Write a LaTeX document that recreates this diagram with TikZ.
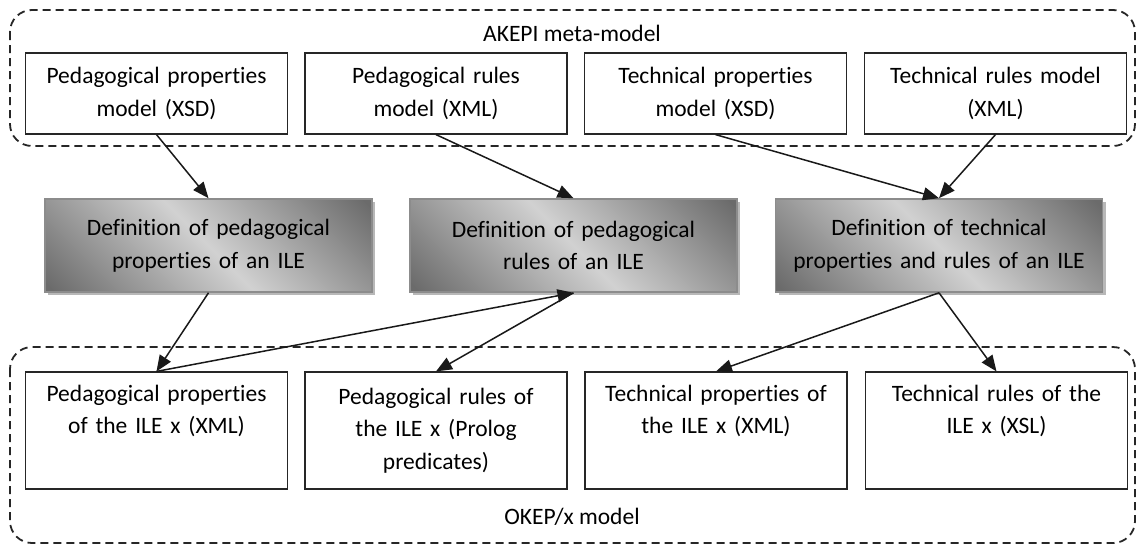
\documentclass[tikz,border=0pt]{standalone}
\usepackage{fontspec}
\setmainfont{Carlito}[Ligatures={NoCommon,NoDiscretionary,NoRequired}]
\usetikzlibrary{arrows.meta,shadows}

% diagonal grey gradient used by the process boxes
\pgfdeclarehorizontalshading{procgrad}{100bp}{%
  color(0bp)=(black!58); color(16bp)=(black!58);
  color(50bp)=(black!18);
  color(84bp)=(black!58); color(100bp)=(black!58)}

\tikzset{
  base/.style={font=\fontsize{23.5}{32.5}\selectfont, align=center, inner sep=0pt},
  modelbox/.style={base, draw=black!85, line width=1.2pt,
    minimum width=262pt, minimum height=81pt, text width=250pt},
  instbox/.style={base, draw=black!85, line width=1.2pt,
    minimum width=262pt, minimum height=117pt, text width=250pt},
  procbox/.style={base, draw=black!45, line width=1.6pt,
    minimum width=327pt, minimum height=93pt, text width=315pt,
    shading=procgrad, shading angle=45,
    drop shadow={shadow xshift=3pt, shadow yshift=-3pt, fill=black!35, opacity=0.8}},
  container/.style={draw=black!85, line width=1.8pt, dash pattern=on 8pt off 5pt,
    rounded corners=22pt},
  flow/.style={-{Triangle[length=16pt,width=13pt]}, line width=1.5pt, draw=black!90},
  caption/.style={base}
}

\begin{document}
\begin{tikzpicture}[x=1pt,y=-1pt]
  \useasboundingbox (0,0) rectangle (1137,546);

  % the two model containers
  \draw[container] (10,10) rectangle (1135,146);
  \draw[container] (10,347) rectangle (1135,543);
  \node[caption] (akepi) at (572,33) {AKEPI meta-model};
  \node[caption] (okep) at (572,517) {OKEP/x model};

  % meta-model
  \node[modelbox] (m1) at (156.5,93.5) {Pedagogical properties\\model (XSD)};
  \node[modelbox] (m2) at (436,93.5)   {Pedagogical rules\\model (XML)};
  \node[modelbox] (m3) at (715.5,93.5) {Technical properties\\model (XSD)};
  \node[modelbox] (m4) at (995.5,93.5) {Technical rules model\\(XML)};

  % definition steps
  \node[procbox] (d1) at (208.5,245.5) {Definition of pedagogical\\properties of an ILE};
  \node[procbox] (d2) at (573.5,245.5) {Definition of pedagogical\\rules of an ILE};
  \node[procbox] (d3) at (939,245.5)   {Definition of technical\\properties and rules of an ILE};

  % ILE instance
  \node[instbox] (i1) at (156.5,430.5) {Pedagogical properties\\of the ILE x (XML)\\\strut};
  \node[instbox] (i2) at (436,430.5)   {Pedagogical rules of\\the ILE x (Prolog\\predicates)};
  \node[instbox] (i3) at (716,430.5)   {Technical properties of\\the ILE x (XML)\\\strut};
  \node[instbox] (i4) at (996.5,430.5) {Technical rules of the\\ILE x (XSL)\\\strut};

  % connectors
  \draw[flow] (m1.south) -- (d1.north);
  \draw[flow] (m2.south) -- (d2.north);
  \draw[flow] (m3.south) -- (d3.north);
  \draw[flow] (m4.south) -- (d3.north);
  \draw[flow] (d1.south) -- (i1.north);
  \draw[flow] (i1.north) -- (d2.south);
  \draw[flow] (d2.south) -- (i2.north);
  \draw[flow] (d3.south) -- (i3.north);
  \draw[flow] (d3.south) -- (i4.north);
\end{tikzpicture}
\end{document}
